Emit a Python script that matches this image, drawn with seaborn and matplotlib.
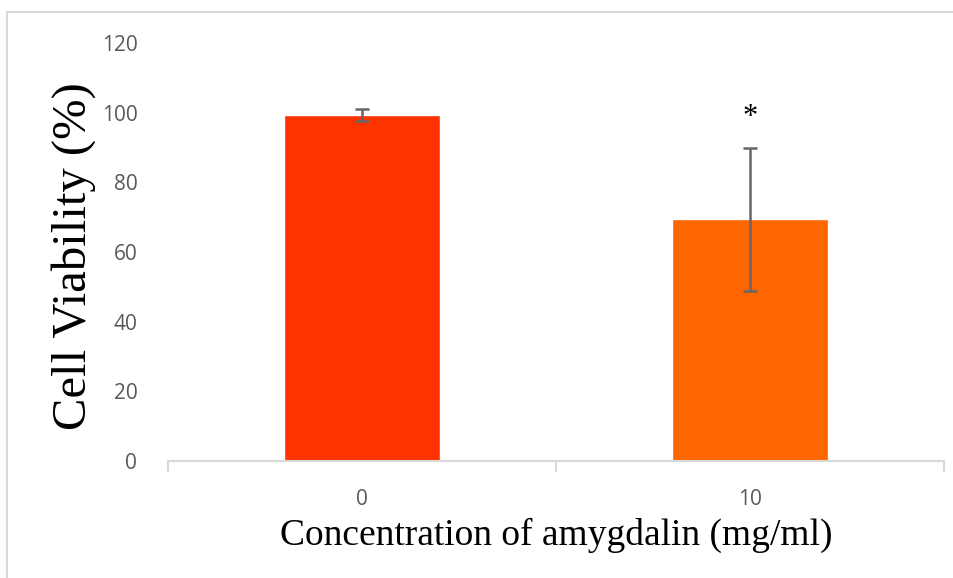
import numpy as np
import pandas as pd
import matplotlib
matplotlib.use('Agg')
import matplotlib.pyplot as plt
import seaborn as sns
from matplotlib.patches import Rectangle

# data
concentrations = ['0', '10']
viability = [99.3, 69.4]
sd = [1.7, 20.5]
bar_colors = ['#FF3300', '#FF6600']

df = pd.DataFrame({'conc': concentrations, 'viability': viability})

sns.set_style('white')
plt.rcParams['font.family'] = ['Open Sans', 'DejaVu Sans']

fig = plt.figure(figsize=(9.54, 5.78), dpi=100)
ax = fig.add_axes([0.176, 0.2024, 0.8135, 0.7232])

sns.barplot(data=df, x='conc', y='viability', hue='conc', palette=bar_colors,
            width=0.4, saturation=1, errorbar=None, legend=False, ax=ax)
ax.errorbar(x=np.arange(len(concentrations)), y=viability, yerr=sd, fmt='none',
            ecolor='#666666', elinewidth=1.8, capsize=5, capthick=1.8)
ax.text(1, 98.5, '*', ha='center', va='center', fontsize=22,
        family='Liberation Serif', color='black')

ax.set_xlim(-0.5, 1.5)
ax.set_ylim(0, 120)
ax.set_yticks(range(0, 121, 20))

sns.despine(ax=ax, left=True)
ax.spines['bottom'].set_color('#D9D9D9')
ax.spines['bottom'].set_linewidth(1.5)
ax.set_xticks([-0.5, 0.5, 1.5], minor=True)
ax.tick_params(axis='x', which='minor', bottom=True, length=8, width=1.5,
               color='#D9D9D9', direction='out')
ax.tick_params(axis='x', which='major', length=0, pad=20, labelsize=15, labelcolor='#595959')
ax.tick_params(axis='y', length=0, pad=22, labelsize=15, labelcolor='#595959')

ax.set_xlabel('Concentration of amygdalin (mg/ml)', fontsize=27,
              family='Liberation Serif', color='black')
ax.set_ylabel('Cell Viability (%)', fontsize=35, family='Liberation Serif', color='black')
ax.xaxis.set_label_coords(0.5, -0.135)
ax.yaxis.set_label_coords(-0.093, 0.49)

fig.patches.append(Rectangle((0.0073, -0.1), 1.2, 0.979 + 0.1, transform=fig.transFigure,
                             fill=False, edgecolor='#D9D9D9', linewidth=1.5))

fig.savefig('out.png', dpi=100)
